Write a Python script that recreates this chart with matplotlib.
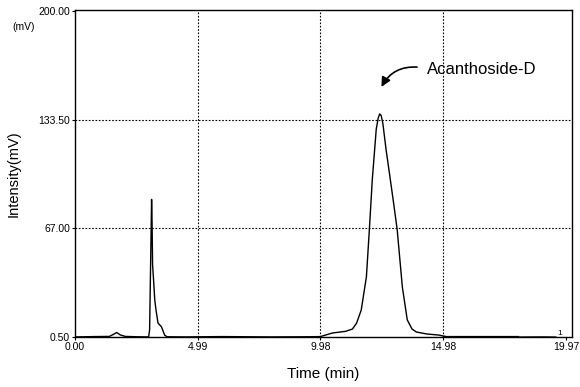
import numpy as np
import matplotlib.pyplot as plt

# chromatogram trace (time in min, intensity in mV)
time_min = [0.00, 0.80, 1.40, 1.55, 1.70, 1.85, 2.05, 2.50, 3.00, 3.04, 3.08,
            3.12, 3.14, 3.16, 3.20, 3.25, 3.30, 3.38, 3.52, 3.65, 3.75, 4.50,
            6.00, 8.00, 9.50, 9.98, 10.47, 11.00, 11.28, 11.45, 11.64, 11.85,
            11.97, 12.09, 12.25, 12.33, 12.39, 12.45, 12.52, 12.65, 12.78,
            12.95, 13.10, 13.31, 13.51, 13.70, 13.88, 14.30, 14.81, 15.13,
            16.00, 17.00, 18.00, 19.00, 19.55]
intensity_mv = [0.6, 0.8, 0.9, 2.0, 3.3, 1.8, 0.9, 0.7, 0.6, 5.0, 45.0,
                84.7, 70.0, 44.8, 35.5, 23.0, 17.0, 9.1, 6.8, 1.7, 0.7, 0.6,
                0.8, 0.6, 0.7, 0.8, 3.0, 4.0, 5.4, 9.0, 17.1, 37.4,
                66.3, 97.0, 127.7, 134.5, 137.0, 136.0, 131.0, 115.0, 101.3,
                83.0, 66.3, 31.2, 11.0, 5.5, 3.6, 2.4, 1.7, 0.6,
                0.5, 0.6, 0.5, 0.6, 0.5]

x_ticks = [0.00, 4.99, 9.98, 14.98, 19.97]
y_ticks = [0.50, 67.00, 133.50, 200.00]
peak_name = "Acanthoside-D"
peak_xy = (12.41, 152.0)
label_xy = (14.02, 165.5)

fig = plt.figure(figsize=(5.8, 3.87), dpi=100)
ax = fig.add_axes([0.129, 0.129, 0.857, 0.845])

ax.plot(time_min, intensity_mv, color="black", lw=1.0)
ax.plot([15.0, 18.0], [0.6, 0.6], color="black", lw=1.6)

ax.set_xlim(0, 20.2)
ax.set_ylim(0.5, 200.5)
ax.set_xticks(x_ticks)
ax.set_xticklabels([f"{v:.2f}" for v in x_ticks])
ax.set_yticks(y_ticks)
ax.set_yticklabels([f"{v:.2f}" for v in y_ticks])
ax.tick_params(labelsize=7.5, length=2, width=0.8, pad=1.5)
for lab in ax.get_xticklabels() + ax.get_yticklabels():
    lab.set_family("Liberation Sans")

# dotted grid at the inner ticks only
for xv in x_ticks[1:-1]:
    ax.axvline(xv, color="black", lw=0.8, ls=(0, (1.5, 1.5)))
for yv in y_ticks[1:-1]:
    ax.axhline(yv, color="black", lw=0.8, ls=(0, (1.5, 1.5)))

for sp in ax.spines.values():
    sp.set_linewidth(1.0)

ax.set_xlabel("Time (min)", fontsize=11, family="Liberation Sans", labelpad=11)
ax.set_ylabel("Intensity(mV)", fontsize=10.5, family="Liberation Sans", labelpad=13)
fig.text(0.022, 0.922, "(mV)", fontsize=7.5, family="Liberation Sans")
ax.text(19.62, 0.8, "1", fontsize=6, family="Liberation Sans", va="bottom")

ax.text(label_xy[0] + 0.3, label_xy[1] - 1.5, peak_name, fontsize=12,
        family="Liberation Sans", va="center", ha="left")
ax.annotate("", xy=peak_xy, xytext=label_xy,
            arrowprops=dict(arrowstyle="-|>", color="black", lw=1.2,
                            mutation_scale=14,
                            connectionstyle="arc3,rad=0.35"))

fig.savefig("out.png", dpi=100)
